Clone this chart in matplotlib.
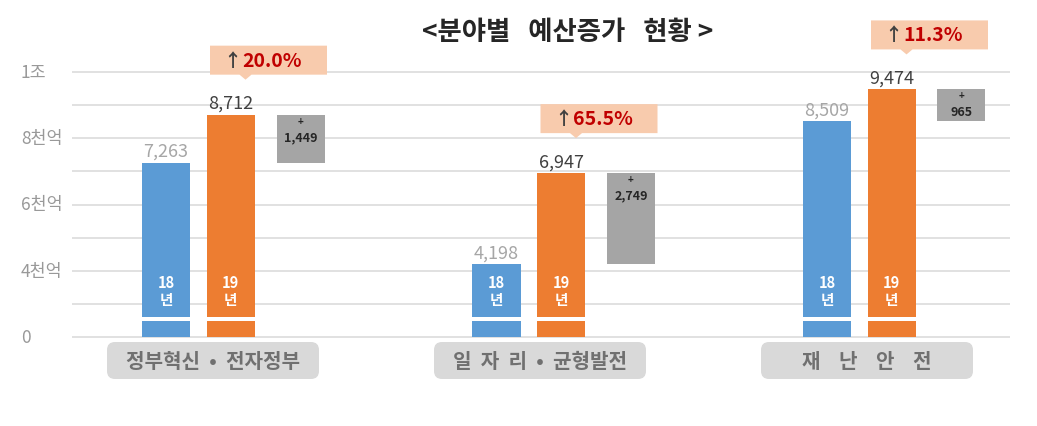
import matplotlib
matplotlib.use('Agg')
import matplotlib.pyplot as plt
from matplotlib.patches import FancyBboxPatch, Polygon
import numpy as np

plt.rcParams['font.family'] = ['Noto Sans CJK KR', 'DejaVu Sans']

# ---------------- data ----------------
categories = ['정부혁신  •  전자정부', '일  자  리  •  균형발전', '재    난    안    전']
budget_2018 = [7263, 4198, 8509]          # 억원
budget_2019 = [8712, 6947, 9474]          # 억원
increase = [1449, 2749, 965]              # 억원
increase_pct = ['20.0%', '65.5%', '11.3%']
year_labels = ['18', '19']
ytick_values = [2000, 4000, 6000, 8000, 10000]
ytick_labels = ['0', '4천억', '6천억', '8천억', '1조']
title = '<분야별   예산증가   현황 >'

# ---------------- layout ----------------
W, H = 1037, 427
fig = plt.figure(figsize=(W / 100, H / 100), dpi=100)
ax = fig.add_axes([0, 0, 1, 1])
PX_X = 327.0            # pixels per category (label boxes)
X0 = 213.0              # pixel x of first category centre
PX_Y = 33.125 / 1000    # pixels per 억
Y0PX = 338              # pixel row of axis base
BASE = 2000             # broken-axis base value (shown as 0)
ax.set_xlim(-X0 / PX_X, (W - X0) / PX_X)
ax.set_ylim(BASE - (H - Y0PX) / PX_Y, BASE + Y0PX / PX_Y)
ax.axis('off')

def px(n):   # pixel distance -> x data units
    return n / PX_X

def py(n):   # pixel distance -> y data units
    return n / PX_Y

x = np.arange(len(categories))
xb = x * px(330.5)      # bar groups are spaced slightly wider than the label boxes
w = px(48)
off18, off19, offd = px(-47), px(17.5), px(87.5)

# gridlines
grid_x0, grid_x1 = px(72 - X0), px(1010 - X0)
for v in range(ytick_values[0], ytick_values[-1] + 1, 1000):
    ax.hlines(v, grid_x0, grid_x1, color='#D9D9D9', lw=1.1, zorder=1)
for v, lab in zip(ytick_values, ytick_labels):
    ax.text(px(21 - X0), v, lab, ha='left', va='center', fontsize=12.5, color='#999999')

b18 = np.array(budget_2018)
b19 = np.array(budget_2019)
ax.bar(xb + off18, b18 - BASE, bottom=BASE, width=w, color='#5B9BD5', zorder=3)
ax.bar(xb + off19, b19 - BASE, bottom=BASE, width=w, color='#ED7D31', zorder=3)
ax.bar(xb + offd, increase, bottom=b18, width=w, color='#A5A5A5', zorder=3)

# axis break (white band)
for off in (off18, off19):
    ax.bar(xb + off, py(4), bottom=BASE + py(16), width=w * 1.08, color='white', zorder=4)

# year labels inside bars
for off, yl in zip((off18, off19), year_labels):
    for xi in xb:
        ax.text(xi + off, BASE + py(55), yl, ha='center', va='center', fontsize=10.5,
                color='white', fontweight='bold', zorder=5)
        ax.text(xi + off, BASE + py(38), '년', ha='center', va='center', fontsize=10.5,
                color='white', fontweight='bold', zorder=5)

# value labels
for xi, v in zip(xb, b18):
    ax.annotate(f'{v:,}', (xi + off18, v), xytext=(0, 3), textcoords='offset pixels',
                ha='center', va='bottom', fontsize=13, color='#A6A6A6')
for xi, v in zip(xb, b19):
    ax.annotate(f'{v:,}', (xi + off19, v), xytext=(0, 3), textcoords='offset pixels',
                ha='center', va='bottom', fontsize=13, color='#404040')

# increase amounts in grey bars
for xi, top, inc in zip(xb, b19, increase):
    ax.annotate('+', (xi + offd, top), xytext=(0, -6), textcoords='offset pixels',
                ha='center', va='center', fontsize=7, color='#262626', fontweight='bold', zorder=5)
    ax.annotate(f'{inc:,}', (xi + offd, top), xytext=(0, -22), textcoords='offset pixels',
                ha='center', va='center', fontsize=9, color='#262626', fontweight='bold', zorder=5)

# percentage call-outs
bw, bh = px(117), py(29)
for xi, top, pct in zip(xb, b19, increase_pct):
    cx = xi + off19 + px(38)
    y0 = top + py(40)
    tip_x = xi + off19 + px(15)
    verts = [(cx - bw / 2, y0), (tip_x - px(6), y0), (tip_x, y0 - py(5)),
             (tip_x + px(6), y0), (cx + bw / 2, y0), (cx + bw / 2, y0 + bh),
             (cx - bw / 2, y0 + bh)]
    ax.add_patch(Polygon(verts, closed=True, facecolor='#F8CBAD', edgecolor='none', zorder=3))
    ax.annotate('↑', (cx, y0 + bh / 2), xytext=(-36, 0), textcoords='offset pixels',
                ha='center', va='center', fontsize=13, color='#404040', fontweight='bold', zorder=5)
    ax.annotate(pct, (cx, y0 + bh / 2), xytext=(-26, 0), textcoords='offset pixels',
                ha='left', va='center', fontsize=14, color='#C00000', fontweight='bold', zorder=5)

# category label boxes
for xi, cat in zip(x, categories):
    y_top = BASE - py(5)
    y_bot = BASE - py(42)
    box = FancyBboxPatch((xi - px(106), y_bot), px(212), y_top - y_bot,
                         boxstyle=f'round,pad=0,rounding_size={px(8)}',
                         mutation_aspect=(1 / PX_Y) / (1 / PX_X),
                         facecolor='#D9D9D9', edgecolor='none', zorder=2)
    ax.add_patch(box)
    ax.text(xi, (y_top + y_bot) / 2, cat, ha='center', va='center', fontsize=14.5,
            color='#707070', fontweight='bold', zorder=3)

fig.text(567.5 / W, 1 - 33 / H, title, ha='center', va='center', fontsize=19,
         fontweight='bold', color='#262626')

fig.savefig('out.png', dpi=100)
